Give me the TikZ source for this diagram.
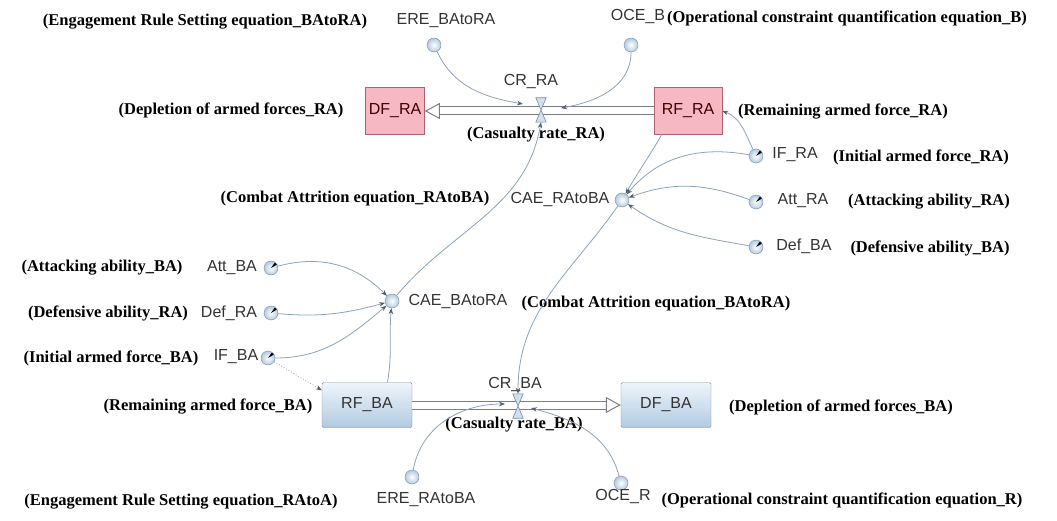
\documentclass[tikz,border=0pt]{standalone}
\usepackage{fontspec}
\setmainfont{Liberation Serif}
\newfontfamily\labfont{Liberation Sans}
\usepackage{tikz}
\usetikzlibrary{calc,positioning,arrows.meta}

\definecolor{linkcol}{RGB}{140,162,185}
\definecolor{tipcol}{RGB}{80,95,110}
\definecolor{rafill}{RGB}{246,184,194}
\definecolor{radraw}{RGB}{175,95,110}
\definecolor{batop}{RGB}{238,245,251}
\definecolor{babot}{RGB}{178,202,225}
\definecolor{badraw}{RGB}{125,140,155}
\definecolor{auxfill}{RGB}{180,202,225}
\definecolor{auxdraw}{RGB}{115,140,165}
\definecolor{pipecol}{RGB}{120,126,132}

\tikzset{
  note/.style={font=\bfseries\fontsize{16.5}{18}\selectfont, inner sep=0pt},
  lab/.style={font=\labfont\fontsize{16}{18}\selectfont, text=black!80, inner sep=0pt},
  aux/.style={circle, draw=auxdraw, inner color=white, outer color=auxfill, minimum size=14pt, inner sep=0pt},
  const/.style={aux, path picture={\fill[black] (path picture bounding box.center) -- ++(55:6.5pt) -- ++(-35:3pt) -- cycle;}},
  stockra/.style={rectangle, draw=radraw, fill=rafill, minimum height=47pt, font=\labfont\fontsize{16}{18}\selectfont, text=black!75!red},
  stockba/.style={rectangle, rounded corners=1.5pt, draw=badraw, top color=batop, bottom color=babot, minimum width=90pt, minimum height=45pt, font=\labfont\fontsize{16}{18}\selectfont, text=black!80},
  valve/.style={minimum width=10pt, minimum height=24pt, inner sep=0pt},
  valvebody/.style={draw=auxdraw, fill=auxfill!60, line width=0.6pt},
  link/.style={draw=linkcol, line width=0.8pt, -{Stealth[length=6pt, width=4.5pt, color=tipcol]}},
  pipe/.style={draw=pipecol, line width=1pt, double=white, double distance=7pt, -{Triangle[open, length=15pt, width=16pt]}},
}

\begin{document}
\begin{tikzpicture}[x=1pt, y=1pt]
\useasboundingbox (0,0) rectangle (1057,-521);

% Stocks of both armies
\node[stockra, minimum width=57pt] (dfRA) at (395,-111) {DF\_RA};
\node[stockra, minimum width=68pt] (rfRA) at (688,-111) {RF\_RA};
\node[stockba] (rfBA) at (367,-405) {RF\_BA};
\node[stockba] (dfBA) at (666,-405) {DF\_BA};

% Flow pipes and the two casualty-rate valves
\draw[pipe] (rfRA.west) -- (dfRA.east);
\draw[pipe] (rfBA.east) -- (dfBA.west);
\node[valve] (vRA) at (541,-110) {};
\node[valve] (vBA) at (518,-406) {};
\draw[valvebody] (vRA.north west) -- (vRA.north east) -- (vRA.south west) -- (vRA.south east) -- cycle;
\draw[valvebody] (vBA.north west) -- (vBA.north east) -- (vBA.south west) -- (vBA.south east) -- cycle;
\coordinate (crRAl) at (523,-104);
\coordinate (crRAr) at (561,-108);
\coordinate (crBAl) at (505,-404);
\coordinate (crBAr) at (531,-408);

% Auxiliaries and constants, red side
\node[aux] (ereB) at (434,-45) {};
\node[aux] (oceB) at (631,-45) {};
\node[aux] (caeRB) at (622,-200) {};
\node[const] (ifRA) at (756,-156) {};
\node[const] (attRA) at (756,-202) {};
\node[const] (defBA) at (756,-247) {};

% Auxiliaries and constants, blue side
\node[aux] (caeBR) at (392,-301) {};
\node[const] (attBA) at (271,-268) {};
\node[const] (defRA) at (271,-313) {};
\node[const] (ifBA) at (268,-358) {};
\node[aux] (ereRB) at (412,-477) {};
\node[aux] (oceR) at (621,-483) {};

% Variable names
\node[lab] at (446,-21) {ERE\_BAtoRA};
\node[lab] at (638,-17) {OCE\_B};
\node[lab] at (531,-82) {CR\_RA};
\node[lab] at (795,-155) {IF\_RA};
\node[lab] at (560,-200) {CAE\_RAtoBA};
\node[lab] at (803,-201) {Att\_RA};
\node[lab] at (804,-246) {Def\_BA};
\node[lab] at (458,-302) {CAE\_BAtoRA};
\node[lab] at (232,-268) {Att\_BA};
\node[lab] at (229,-313) {Def\_RA};
\node[lab] at (236,-357) {IF\_BA};
\node[lab] at (515,-385) {CR\_BA};
\node[lab] at (426,-500) {ERE\_RAtoBA};
\node[lab] at (623,-497) {OCE\_R};

% Explanations in brackets
\node[note] at (205,-22) {(Engagement Rule Setting equation\_BAtoRA)};
\node[note] at (847,-18) {(Operational constraint quantification equation\_B)};
\node[note] at (231,-110) {(Depletion of armed forces\_RA)};
\node[note] at (843,-112) {(Remaining armed force\_RA)};
\node[note] at (536,-135) {(Casualty rate\_RA)};
\node[note] at (921,-157) {(Initial armed force\_RA)};
\node[note] at (355,-199) {(Combat Attrition equation\_RAtoBA)};
\node[note] at (929,-202) {(Attacking ability\_RA)};
\node[note] at (930,-248) {(Defensive ability\_BA)};
\node[note] at (656,-304) {(Combat Attrition equation\_BAtoRA)};
\node[note] at (102,-268) {(Attacking ability\_BA)};
\node[note] at (108,-313) {(Defensive ability\_RA)};
\node[note] at (111,-358) {(Initial armed force\_BA)};
\node[note] at (208,-407) {(Remaining armed force\_BA)};
\node[note] at (514,-425) {(Casualty rate\_BA)};
\node[note] at (841,-407) {(Depletion of armed forces\_BA)};
\node[note] at (181,-502) {(Engagement Rule Setting equation\_RAtoA)};
\node[note] at (842,-500) {(Operational constraint quantification equation\_R)};

% Links into CR_RA
\draw[link] (ereB) to[out=-65, in=170] (crRAl);
\draw[link] (oceB) to[out=-90, in=10] (crRAr);
\draw[link] (caeBR) to[out=50, in=-100] (vRA.south);

% Links into CAE_RAtoBA and RF_RA
\draw[link] (rfRA.222) to[out=-120, in=60] (caeRB);
\draw[link] (ifRA) to[out=170, in=50] (caeRB);
\draw[link] (attRA) to[out=160, in=20] (caeRB);
\draw[link] (defBA) to[out=170, in=-35] (caeRB);
\draw[link] (ifRA) to[out=115, in=-20] (rfRA.east);

% Links into CAE_BAtoRA and RF_BA
\draw[link] (attBA) to[out=15, in=135] (caeBR);
\draw[link] (defRA) to[out=-5, in=195] (caeBR);
\draw[link] (ifBA) to[out=0, in=-140] (caeBR);
\draw[link] (rfBA.48) to[out=80, in=-95] (caeBR);
\draw[link, dotted] (ifBA) -- (rfBA.162);

% Links into CR_BA
\draw[link] (caeRB) to[out=235, in=90] (vBA.north);
\draw[link] (ereRB) to[out=80, in=180] (crBAl);
\draw[link] (oceR) to[out=105, in=-15] (crBAr);

\end{tikzpicture}
\end{document}
